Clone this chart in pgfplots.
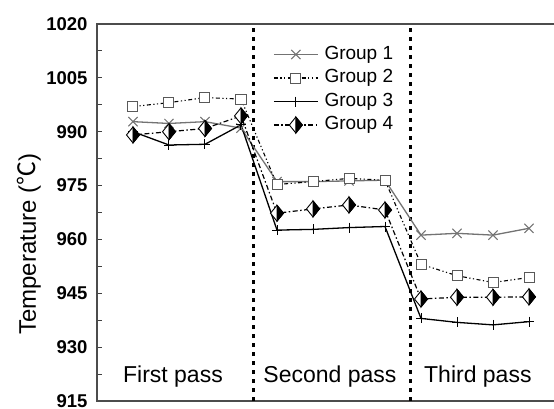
\documentclass[border=0pt]{standalone}
\usepackage{fontspec}
\setmainfont{Liberation Sans}
\newfontfamily\cjk{Noto Sans CJK SC}
\usepackage{pgfplots}
\pgfplotsset{compat=1.18}

\pgfdeclareplotmark{halfdiamond}{%
  \pgfsetfillcolor{white}%
  \pgfpathmoveto{\pgfqpoint{0pt}{8pt}}%
  \pgfpathlineto{\pgfqpoint{-6.5pt}{0pt}}%
  \pgfpathlineto{\pgfqpoint{0pt}{-8pt}}%
  \pgfpathlineto{\pgfqpoint{6.5pt}{0pt}}%
  \pgfpathclose
  \pgfusepathqfillstroke
  \pgfsetfillcolor{black}%
  \pgfpathmoveto{\pgfqpoint{0pt}{8pt}}%
  \pgfpathlineto{\pgfqpoint{0pt}{-8pt}}%
  \pgfpathlineto{\pgfqpoint{6.5pt}{0pt}}%
  \pgfpathclose
  \pgfusepathqfillstroke
}

\begin{document}
\begin{tikzpicture}
\useasboundingbox (-97pt,-7pt) rectangle (457pt,401pt);
\begin{axis}[
  at={(0,0)}, anchor=south west,
  scale only axis, width=468pt, height=377pt,
  xmin=0, xmax=13, ymin=915, ymax=1020,
  xtick=\empty,
  ytick={915,930,...,1020},
  minor y tick num=1,
  ytick pos=left,
  tick align=inside,
  major tick length=5pt, minor tick length=5pt,
  tick style={line width=1pt, color=black!75},
  axis line style={line width=1.3pt, color=black!70},
  /pgf/number format/assume math mode=true,
  /pgf/number format/1000 sep={},
  yticklabel style={font=\bfseries\fontsize{18.5}{18.5}\selectfont, xshift=-6pt},
  ylabel={Temperature ({\cjk ℃})},
  ylabel style={font=\fontsize{24}{24}\selectfont, at={(axis description cs:-0.145,0.416)}, anchor=center, rotate=0},
  legend style={at={(axis cs:4.889,1014.2)}, anchor=north west, draw=none, fill=none,
    inner sep=0pt, row sep=4.5pt, font=\fontsize{19}{19}\selectfont,
    nodes={inner sep=1pt, text height=13pt, text depth=4pt}},
  legend cell align=left,
  legend image code/.code={\draw[mark repeat=2,mark phase=2] plot coordinates {(0pt,0pt)(22pt,0pt)(44pt,0pt)};\path (49pt,0pt);},
]
% dividers
\addplot[black, line width=3pt, dash pattern=on 4pt off 5pt, forget plot] coordinates {(4.36,915)(4.36,1020)};
\addplot[black, line width=3pt, dash pattern=on 4pt off 5pt, forget plot] coordinates {(8.72,915)(8.72,1020)};

\addplot[color=black!55, line width=1.3pt, mark=x, mark size=6.5pt, mark options={solid, line width=1pt}]
coordinates {(1,992.8)(2,992.3)(3,992.8)(4,991.0)(5,976.1)(6,976.1)(7,976.3)(8,976.5)(9,961.2)(10,961.7)(11,961.2)(12,963.1)};
\addlegendentry{Group 1}

\addplot[color=black, line width=1.1pt, dash pattern=on 4pt off 2.5pt on 1.2pt off 2.5pt on 1.2pt off 2.5pt,
  mark=square*, mark size=5pt, mark options={solid, draw=black!65, fill=white, line width=1pt}]
coordinates {(1,997.0)(2,998.1)(3,999.5)(4,999.1)(5,975.3)(6,976.1)(7,977.0)(8,976.5)(9,953.1)(10,949.9)(11,948.0)(12,949.4)};
\addlegendentry{Group 2}

\addplot[color=black, line width=1.3pt, mark=+, mark size=5pt, mark options={solid, line width=1pt}]
coordinates {(1,990.0)(2,986.3)(3,986.5)(4,991.9)(5,962.6)(6,962.8)(7,963.3)(8,963.6)(9,938.0)(10,936.9)(11,936.2)(12,937.1)};
\addlegendentry{Group 3}

\addplot[color=black, line width=1.2pt, dash pattern=on 5pt off 2.5pt on 1.5pt off 2.5pt,
  mark=halfdiamond, mark options={solid, draw=black, line width=0.9pt}]
coordinates {(1,989.1)(2,990.0)(3,990.9)(4,994.4)(5,967.3)(6,968.5)(7,969.6)(8,968.2)(9,943.4)(10,943.9)(11,943.9)(12,944.0)};
\addlegendentry{Group 4}

\node[anchor=base, font=\fontsize{23}{23}\selectfont] at (axis cs:2.11,920.1) {First pass};
\node[anchor=base, font=\fontsize{23}{23}\selectfont] at (axis cs:6.47,920.1) {Second pass};
\node[anchor=base, font=\fontsize{23}{23}\selectfont] at (axis cs:10.58,920.1) {Third pass};
\end{axis}
\end{tikzpicture}
\end{document}
